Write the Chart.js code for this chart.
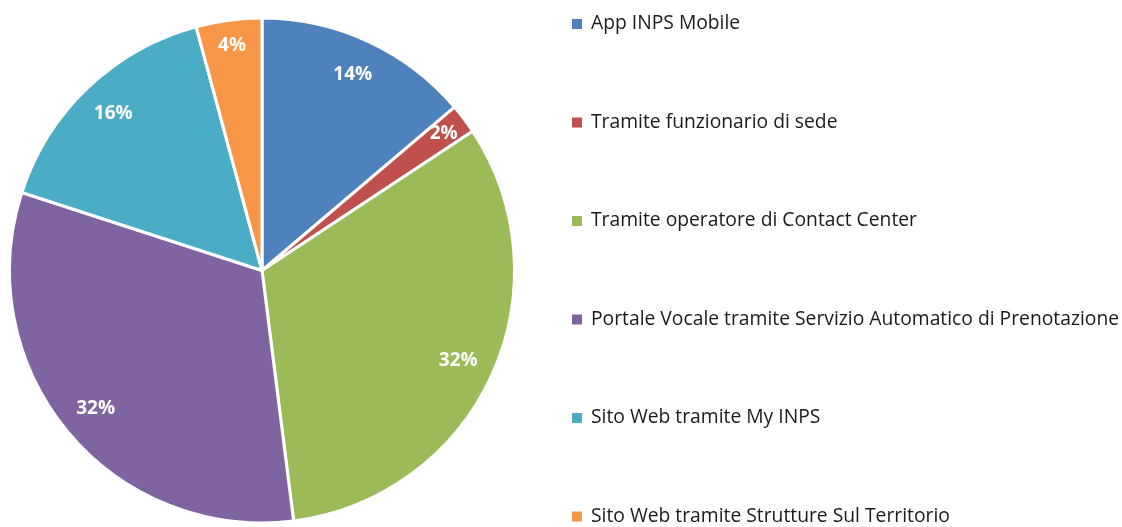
<!DOCTYPE html>
<html>
<head>
<meta charset="utf-8">
<script src="https://cdn.jsdelivr.net/npm/chart.js@4"></script>
<style>
  html, body { margin: 0; padding: 0; background: #fff; }
  #wrap { width: 1122px; height: 527px; }
</style>
</head>
<body>
<div id="wrap"><canvas id="grafico" width="1122" height="527"></canvas></div>
<script>
// dati
const categorie = [
    "App INPS Mobile",
    "Tramite funzionario di sede",
    "Tramite operatore di Contact Center",
    "Portale Vocale tramite Servizio Automatico di Prenotazione",
    "Sito Web tramite My INPS",
    "Sito Web tramite Strutture Sul Territorio"
];
const valori = [13.8, 1.9, 32.3, 32.0, 15.8, 4.2];
const etichette = ["14%", "2%", "32%", "32%", "16%", "4%"];
const colori = ["#4F81BD", "#C0504D", "#9BBB59", "#8064A2", "#4BACC6", "#F79646"];

const FONT = "'Open Sans', Roboto, sans-serif";

// etichette percentuali dentro le fette
const pluginEtichette = {
    id: "etichette",
    afterDatasetsDraw(chart) {
        const ctx = chart.ctx;
        const meta = chart.getDatasetMeta(0);
        ctx.save();
        ctx.fillStyle = "#fff";
        ctx.font = "bold 19px " + FONT;
        ctx.textAlign = "center";
        ctx.textBaseline = "middle";
        meta.data.forEach((arc, i) => {
            const mid = (arc.startAngle + arc.endAngle) / 2;
            const k = valori[i] < 5 ? 0.9 : 0.855;
            const r = arc.outerRadius * k;
            ctx.fillText(etichette[i], arc.x + Math.cos(mid) * r, arc.y + Math.sin(mid) * r);
        });
        ctx.restore();
    }
};

// legenda a destra, voci molto distanziate
const pluginLegenda = {
    id: "legendaDestra",
    afterDraw(chart) {
        const ctx = chart.ctx;
        ctx.save();
        ctx.font = "19.3px " + FONT;
        ctx.textBaseline = "middle";
        categorie.forEach((nome, i) => {
            const y = 24 + i * 98.5;
            ctx.fillStyle = colori[i];
            ctx.fillRect(572, y - 5, 10, 10);
            ctx.fillStyle = "#1a1a1a";
            ctx.fillText(nome, 591, y);
        });
        ctx.restore();
    }
};

new Chart(document.getElementById("grafico"), {
    type: "pie",
    data: {
        labels: categorie,
        datasets: [{
            data: valori,
            backgroundColor: colori,
            borderColor: "#ffffff",
            borderWidth: 3
        }]
    },
    options: {
        responsive: false,
        animation: false,
        layout: { padding: { left: 8, right: 606, top: 16, bottom: 2 } },
        plugins: {
            legend: { display: false },
            tooltip: { enabled: false }
        }
    },
    plugins: [pluginEtichette, pluginLegenda]
});
</script>
</body>
</html>
